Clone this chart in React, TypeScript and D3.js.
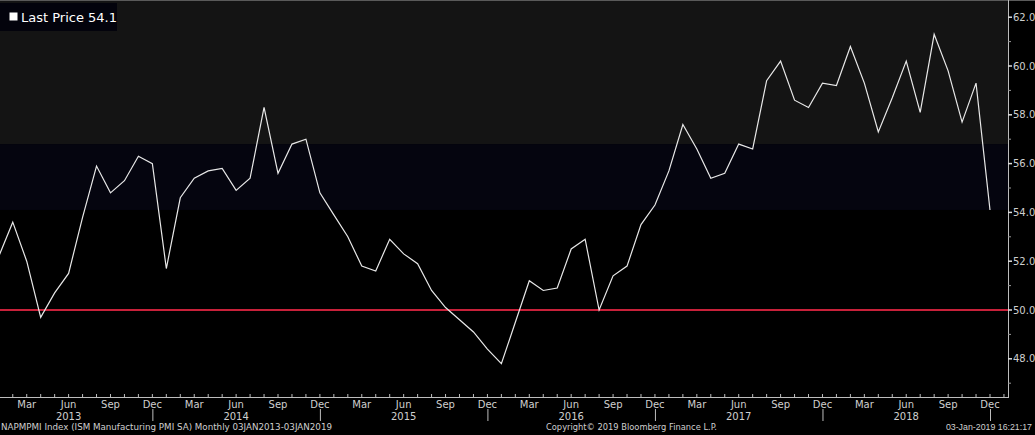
import React from "react";
import * as d3 from "d3";

const years = [2013, 2014, 2015, 2016, 2017, 2018];
const monthNames = ["Jan", "Feb", "Mar", "Apr", "May", "Jun", "Jul", "Aug", "Sep", "Oct", "Nov", "Dec"];
const labelMonths = ["Mar", "Jun", "Sep", "Dec"];
const pmi2013 = [52.2, 53.6, 52.0, 49.7, 50.7, 51.5, 53.8, 55.9, 54.8, 55.3, 56.3, 56.0];
const pmi2014 = [51.7, 54.6, 55.4, 55.7, 55.8, 54.9, 55.4, 58.3, 55.6, 56.8, 57.0, 54.8];
const pmi2015 = [53.9, 53.0, 51.8, 51.6, 52.9, 52.3, 51.9, 50.8, 50.1, 49.6, 49.1, 48.4];
const pmi2016 = [47.8, 49.5, 51.2, 50.8, 50.9, 52.5, 52.9, 50.0, 51.4, 51.8, 53.5, 54.3];
const pmi2017 = [55.7, 57.6, 56.6, 55.4, 55.6, 56.8, 56.6, 59.4, 60.2, 58.6, 58.3, 59.3];
const pmi2018 = [59.2, 60.8, 59.3, 57.3, 58.7, 60.2, 58.1, 61.3, 59.8, 57.7, 59.3, 54.1];
const yTicks = [48, 50, 52, 54, 56, 58, 60, 62];
const yMinorTicks = [47, 49, 51, 53, 55, 57, 59, 61];
const thresholdLevel = 50;
const lastPrice = 54.1;
const bandUpper = 56.8;
const footerLeft = "NAPMPMI Index (ISM Manufacturing PMI SA)  Monthly 03JAN2013-03JAN2019";
const footerCenter = "Copyright\u00A9 2019 Bloomberg Finance L.P.";
const footerRight = "03-Jan-2019 16:21:17";

const W = 1035;
const H = 435;
const plotRight = 1008;
const plotBottom = 397;

export default function App() {
  const values = [...pmi2013, ...pmi2014, ...pmi2015, ...pmi2016, ...pmi2017, ...pmi2018];
  const data = values.map((v, i) => ({ i, v, m: monthNames[i % 12], y: years[Math.floor(i / 12)] }));

  const x = d3.scaleLinear().domain([0, values.length - 1]).range([-1.2, 990]);
  const y = d3.scaleLinear().domain([48, 62]).range([358.8, 17.2]);

  const line = d3
    .line<{ i: number; v: number }>()
    .x((d) => x(d.i))
    .y((d) => y(d.v));

  const font = "'DejaVu Sans', sans-serif";
  const footFont = "'Liberation Sans', Arial, sans-serif";
  const txt = "#cfcfcf";
  const tickIdx = d3.range(0, values.length + 1);

  return (
    <svg
      width={W}
      height={H}
      style={{ position: "fixed", left: 0, top: 0, display: "block", background: "#000" }}
    >
      <defs>
        <clipPath id="plotclip">
          <rect x={0} y={0} width={plotRight} height={plotBottom} />
        </clipPath>
      </defs>
      <rect x={0} y={0} width={W} height={H} fill="#000" />
      {/* background bands */}
      <rect x={0} y={0} width={plotRight} height={y(bandUpper)} fill="#141414" />
      <rect
        x={0}
        y={y(bandUpper)}
        width={plotRight}
        height={y(lastPrice) - y(bandUpper)}
        fill="#05050f"
      />
      <line x1={0} x2={W} y1={0.5} y2={0.5} stroke="#5a5a5a" strokeWidth={1} />

      <g clipPath="url(#plotclip)">
        <line
          x1={0}
          x2={plotRight}
          y1={y(thresholdLevel)}
          y2={y(thresholdLevel)}
          stroke="#c8213a"
          strokeWidth={2}
        />
        <path d={line(data) || ""} fill="none" stroke="#e8e8e8" strokeWidth={1.2} />
      </g>

      {/* right axis */}
      <line x1={plotRight + 0.5} x2={plotRight + 0.5} y1={0} y2={plotBottom} stroke="#bdbdbd" />
      {yTicks.map((t) => (
        <g key={"yt" + t}>
          <line x1={plotRight} x2={plotRight + 4} y1={y(t)} y2={y(t)} stroke="#dcdcdc" strokeWidth={1.5} />
          <text
            x={plotRight + 5}
            y={y(t)}
            dy="0.35em"
            fill={txt}
            fontFamily={font}
            fontSize={10}
          >
            {t.toFixed(1)}
          </text>
        </g>
      ))}
      {yMinorTicks.map((t) => (
        <line key={"ym" + t} x1={plotRight} x2={plotRight + 3} y1={y(t)} y2={y(t)} stroke="#9a9a9a" />
      ))}

      {/* bottom axis */}
      <line x1={0} x2={plotRight + 1} y1={plotBottom + 0.5} y2={plotBottom + 0.5} stroke="#bdbdbd" />
      {tickIdx.map((i) => (
        <line
          key={"xt" + i}
          x1={x(i)}
          x2={x(i)}
          y1={plotBottom}
          y2={plotBottom - 3}
          stroke="#bdbdbd"
        />
      ))}
      {data
        .filter((d) => labelMonths.includes(d.m))
        .map((d) => (
          <text
            key={"ml" + d.i}
            x={x(d.i)}
            y={408}
            textAnchor="middle"
            fill={txt}
            fontFamily={font}
            fontSize={10}
          >
            {d.m}
          </text>
        ))}
      {data
        .filter((d) => d.m === "Jun")
        .map((d) => (
          <text
            key={"yl" + d.i}
            x={x(d.i)}
            y={420}
            textAnchor="middle"
            fill={txt}
            fontFamily={font}
            fontSize={10}
          >
            {d.y}
          </text>
        ))}
      {data
        .filter((d) => d.m === "Dec")
        .map((d) => (
          <line
            key={"sep" + d.i}
            x1={x(d.i) + 0.5}
            x2={x(d.i) + 0.5}
            y1={409}
            y2={421}
            stroke="#bdbdbd"
          />
        ))}

      {/* footer */}
      <text x={1} y={430} fill={txt} fontFamily={font} fontSize={9.5} textLength={331} lengthAdjust="spacingAndGlyphs">
        {footerLeft}
      </text>
      <text x={546} y={430} fill={txt} fontFamily={font} fontSize={9.5} textLength={171} lengthAdjust="spacingAndGlyphs">
        {footerCenter}
      </text>
      <text x={1032} y={430} textAnchor="end" fill={txt} fontFamily={footFont} fontSize={8.8}>
        {footerRight}
      </text>

      {/* legend */}
      <rect x={0} y={3} width={117} height={28} fill="#03030c" />
      <rect x={9.5} y={12.5} width={8} height={8} fill="#ffffff" />
      <text x={21} y={22} fill="#ffffff" fontFamily={font} fontSize={13}>
        {"Last Price " + lastPrice.toFixed(1)}
      </text>
    </svg>
  );
}
